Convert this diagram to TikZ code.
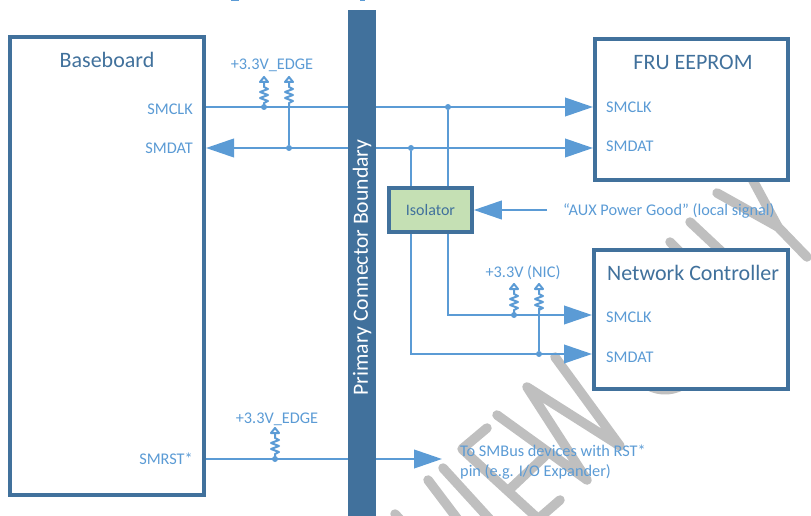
\documentclass[tikz,border=0pt]{standalone}
\usepackage{fontspec}
\setmainfont{Carlito}
\usetikzlibrary{arrows.meta,calc}
\definecolor{sigblue}{HTML}{5B9BD5}
\definecolor{darkblue}{HTML}{41719C}
\definecolor{isogreen}{HTML}{C5E0B4}
\definecolor{wmark}{HTML}{BFBFBF}
\tikzset{
  x=1pt,y=-1pt,
  mainbox/.style={draw=darkblue,line width=4pt,fill=white,inner sep=0pt},
  isobox/.style={draw=darkblue,line width=3.6pt,fill=isogreen,inner sep=0pt,text=darkblue,font=\fontsize{16}{18}\selectfont},
  barbox/.style={fill=darkblue,inner sep=0pt},
  barlabel/.style={text=white,font=\fontsize{21.7}{24}\selectfont,rotate=90,inner sep=0pt},
  title/.style={text=darkblue,font=\fontsize{22}{26}\selectfont,inner sep=0pt},
  pin/.style={text=sigblue,font=\fontsize{16.3}{19}\selectfont,inner sep=0pt},
  note/.style={text=sigblue,font=\fontsize{16.3}{20}\selectfont,inner sep=0pt,align=left},
  sig/.style={draw=sigblue,line width=2.4pt},
  arr/.style={sig,-{Triangle[length=28pt,width=18.5pt]}},
  dot/.style={circle,fill=sigblue,inner sep=0pt,minimum size=6pt},
  wm/.style={draw=wmark,line width=9.5pt,line cap=round,line join=round},
  pullup/.pic={
    \draw[draw=sigblue,line width=2pt,line join=round]
      (0,0) -- (0,-3) -- (4,-5) -- (-4,-8) -- (4,-11) -- (-4,-14) -- (4,-17) -- (0,-19) -- (0,-25);
    \draw[draw=sigblue,line width=2pt,fill=white,line join=round] (-4,-24) -- (0,-29) -- (4,-24) -- cycle;
  }
}
\begin{document}
\begin{tikzpicture}
\useasboundingbox (0,0) rectangle (811,516);
\clip (0,0) rectangle (811,516);
% watermark
\draw[wm] (555,357) -- (620,446) -- (527,387) -- (587,480) -- (497,415);
\draw[wm] (443,468) -- (495,525);
\draw[wm] (428,480) -- (462,525);
\draw[wm] (395,514) -- (405,525);
\draw[wm] (487,428) -- (462,449) -- (545,525);
\draw[wm] (545,456) -- (510,489);
\draw[wm] (560,500) -- (530,526);
\draw[wm] (750,175) -- (778,227) -- (717,193);
\draw[wm] (778,227) -- (807,257);
\draw[wm] (690,222) -- (722,252);
\draw[wm] (670,242) -- (680,252);
\draw[wm] (640,380) .. controls (655,393) and (675,393) .. (690,380);
% clipped caption remains
\draw[sigblue,line width=1.2pt] (231,0.4) -- (239,0.4);
\draw[sigblue,line width=1.2pt] (360,0.4) -- (365,0.4);
% boxes
\node[mainbox,minimum width=194pt,minimum height=458pt] (baseboard) at (107,266) {};
\node[mainbox,minimum width=193pt,minimum height=141pt] (fru) at (691.5,109.5) {};
\node[mainbox,minimum width=194pt,minimum height=139.5pt] (nic) at (691,319.25) {};
\node[isobox,minimum width=83pt,minimum height=44pt] (iso) at (430.5,210) {\raisebox{-1pt}{Isolator}};
% junctions
\coordinate (clkY) at (0,107);
\coordinate (datY) at (0,148);
\coordinate (nclkY) at (0,315);
\coordinate (ndatY) at (0,354);
\coordinate (rstY) at (0,459);
\coordinate (auxsrc) at (547,210);
\coordinate (rstend) at (442,459);
\coordinate (datmid) at (362,148);
\node[dot] (j1) at (264,107) {};
\node[dot] (j2) at (289,148) {};
\node[dot] (j3) at (448,107) {};
\node[dot] (j4) at (411,148) {};
\node[dot] (j5) at (514,315) {};
\node[dot] (j6) at (539,354) {};
\node[dot] (j7) at (275,459) {};
\coordinate (t2) at (289,103);
\coordinate (t6) at (539,308);
% connectors
\draw[arr] (baseboard.east |- clkY) -- (fru.west |- clkY);
\draw[arr] (datmid) -- (fru.west |- datY);
\draw[arr] (datmid) -- (baseboard.east |- datY);
\draw[arr] (auxsrc) -- (iso.east);
\draw[sig] (j3) -- (j3 |- iso.north);
\draw[sig] (j4) -- (j4 |- iso.north);
\draw[arr] (j3 |- iso.south) -- (j3 |- nclkY) -- (nic.west |- nclkY);
\draw[arr] (j4 |- iso.south) -- (j4 |- ndatY) -- (nic.west |- ndatY);
\draw[arr] (baseboard.east |- rstY) -- (rstend);
\draw[sig] (j2) -- (t2);
\draw[sig] (j6) -- (t6);
% pull-ups
\pic at (264,106) {pullup};
\pic at (289,106) {pullup};
\pic at (514,313) {pullup};
\pic at (539,313) {pullup};
\pic at (275,457) {pullup};
% bar
\node[barbox,minimum width=28.5pt,minimum height=506pt] (bar) at (362,263) {};
\node[barlabel] (barl) at (362,267.5) {Primary Connector Boundary};
% labels
\node[title] (tb) at (107,60) {Baseboard};
\node[title] (tf) at (693,62) {FRU EEPROM};
\node[title] (tn) at (693,273) {Network Controller};
\node[pin,anchor=east] (l1) at (193,109) {SMCLK};
\node[pin,anchor=east] (l2) at (193,148) {SMDAT};
\node[pin,anchor=east] (l3) at (193,459) {SMRST*};
\node[pin,anchor=west] (l4) at (606,107) {SMCLK};
\node[pin,anchor=west] (l5) at (606,146) {SMDAT};
\node[pin,anchor=west] (l6) at (606,317) {SMCLK};
\node[pin,anchor=west] (l7) at (606,357) {SMDAT};
\node[pin] (v1) at (272,65) {+3.3V\_EDGE};
\node[pin] (v2) at (277,419) {+3.3V\_EDGE};
\node[pin] (v3) at (523,273) {+3.3V (NIC)};
\node[pin,anchor=west] (aux) at (563,211) {“AUX Power Good” (local signal)};
\node[note,anchor=north west] (rst) at (460,445) {To SMBus devices with RST*\\pin (e.g. I/O Expander)};
\end{tikzpicture}
\end{document}
